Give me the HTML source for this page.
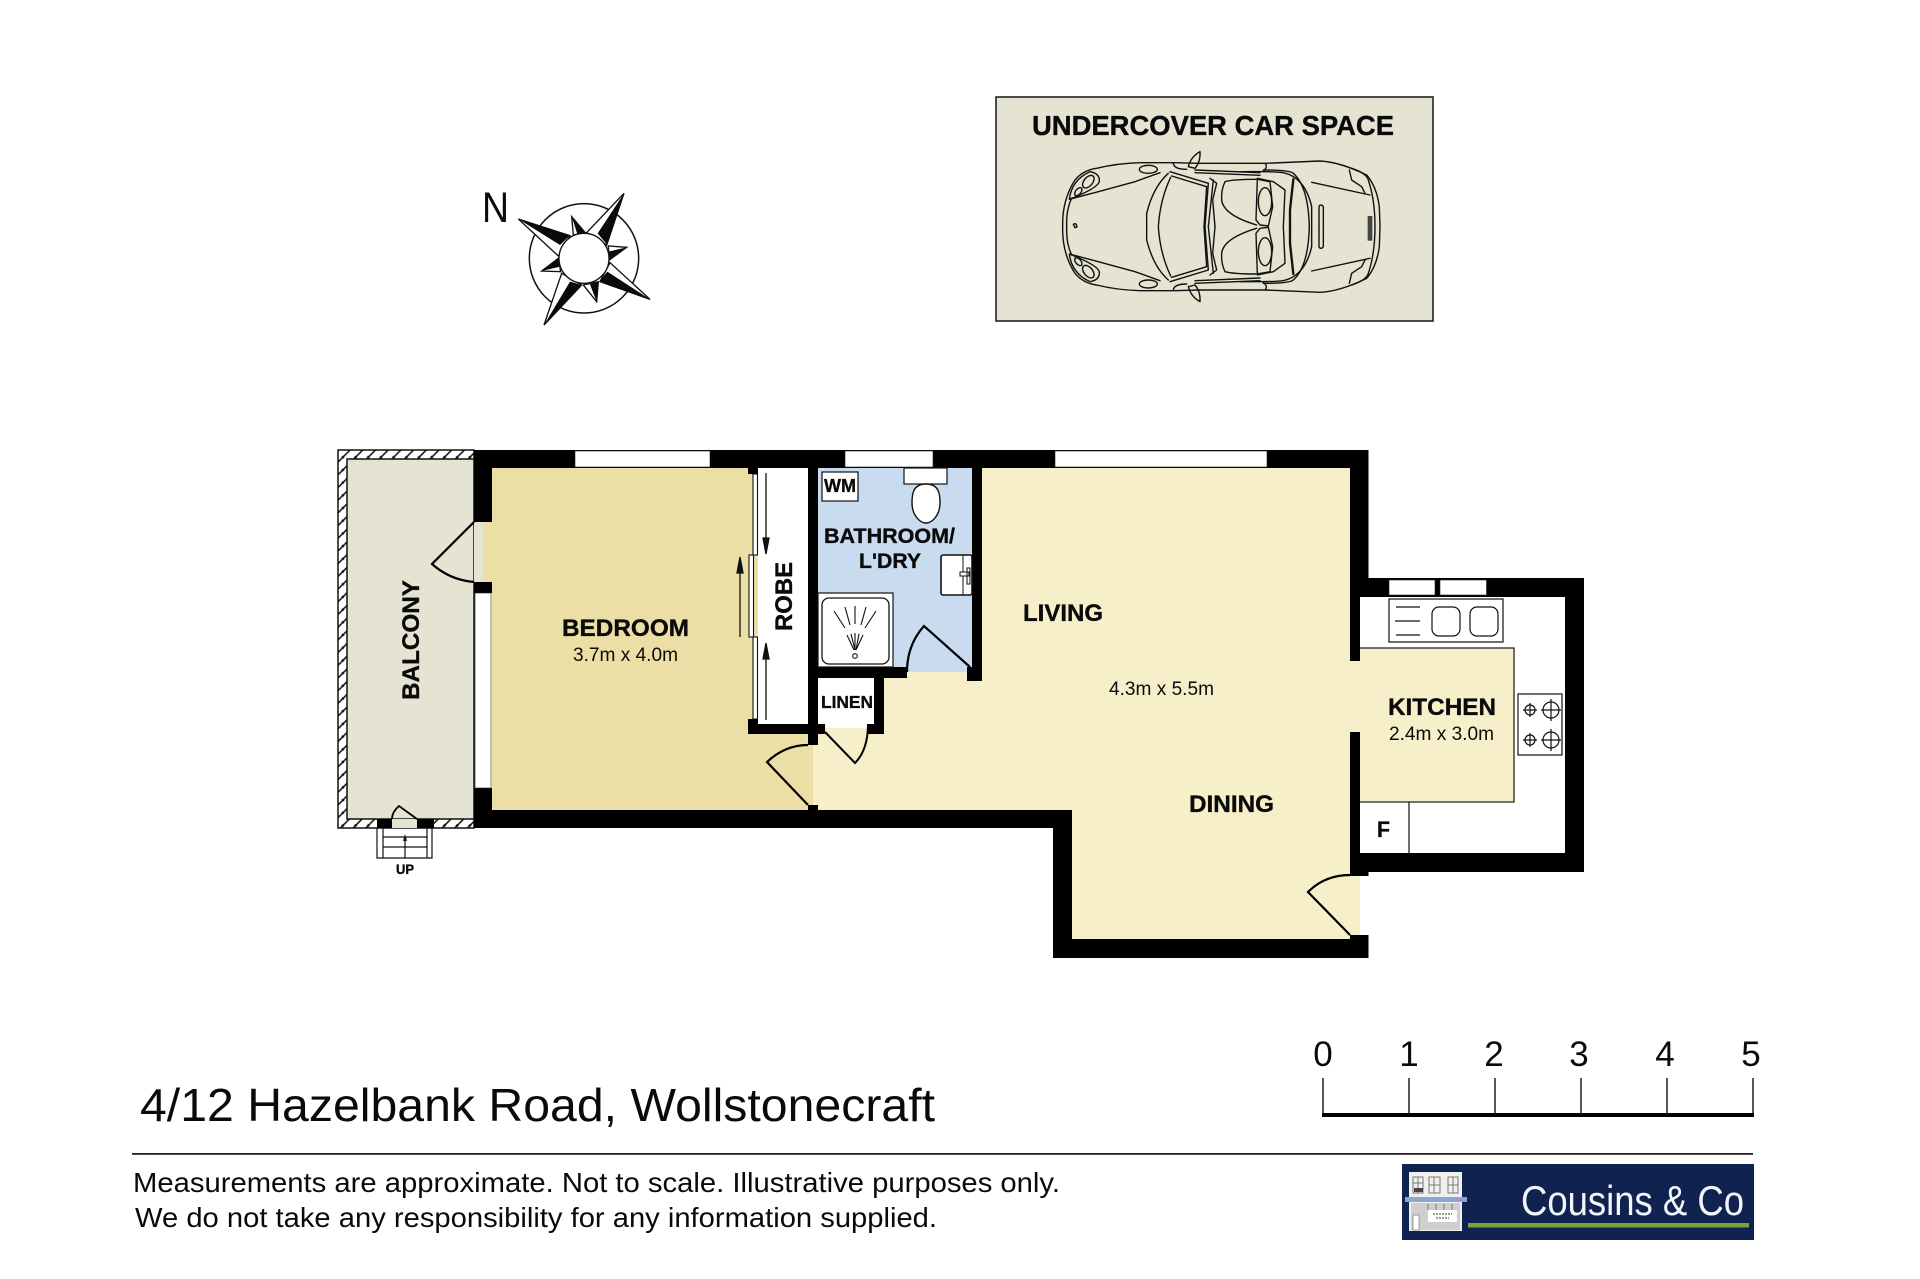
<!DOCTYPE html>
<html lang="en"><head><meta charset="utf-8"><title>4/12 Hazelbank Road, Wollstonecraft</title>
<style>html,body{margin:0;padding:0;background:#fff;width:1920px;height:1279px;overflow:hidden}svg{display:block}
text{font-family:"Liberation Sans",sans-serif;fill:#0a0a0a}.b{font-weight:bold;stroke:#0a0a0a;stroke-width:.35}</style></head><body>
<svg width="1920" height="1279" viewBox="0 0 1920 1279" xmlns="http://www.w3.org/2000/svg">
<defs><pattern id="h" width="12.7" height="12.7" patternUnits="userSpaceOnUse"><rect width="12.7" height="12.7" fill="#fff"/><path d="M-2 2.7L2.7-2M0 12.7L12.7 0M10 14.7L14.7 10" stroke="#111" stroke-width="1.5"/></pattern></defs>
<rect width="1920" height="1279" fill="#fff"/>

<!-- Compass -->
<text x="482" y="222" font-size="43" textLength="27" lengthAdjust="spacingAndGlyphs">N</text>
<g transform="translate(470 170) scale(.33333)">
<circle cx="342" cy="265" r="164" fill="none" stroke="#111" stroke-width="4.5"/>
<g fill="#fff" stroke="#111" stroke-width="4" stroke-linejoin="miter">
<path d="M145 147L265 258 300 197Z"/><path d="M462 70L350 188 410 225Z"/><path d="M540 388L420 278 390 335Z"/><path d="M222 465L275 310 335 345Z"/>
<path d="M305 140L345 187 310 195Z"/><path d="M470 232L415 228 418 270Z"/><path d="M380 395L340 345 385 335Z"/><path d="M215 303L265 265 272 305Z"/></g>
<g fill="#0a0a0a"><path d="M145 147L300 197 270 225Z"/><path d="M462 70L383 190 412 225Z"/><path d="M540 388L388 335 412 305Z"/><path d="M222 465L300 335 335 345Z"/>
<path d="M305 140L345 187 322 192Z"/><path d="M470 232L415 245 418 270Z"/><path d="M380 395L360 343 385 335Z"/><path d="M215 303L265 265 270 290Z"/></g>
<circle cx="342" cy="265" r="75" fill="#fff" stroke="#111" stroke-width="4"/>
</g>

<!-- Car space -->
<rect x="996" y="97" width="437" height="224" fill="#e5e3d2" stroke="#222" stroke-width="1.6"/>
<text class="b" x="1032" y="135" font-size="27.5" textLength="362" lengthAdjust="spacingAndGlyphs">UNDERCOVER CAR SPACE</text>
<g transform="translate(990 90) scale(.33333)" fill="none" stroke="#111" stroke-width="4.2" stroke-linejoin="round" stroke-linecap="round">
<g id="carhalf">
<path d="M218 410Q216 330 255 270 280 240 320 235 380 220 450 218L555 218 625 220 825 220 990 213Q1050 216 1130 255 1160 290 1168 350L1170 410"/>
<path d="M230 410Q228 360 245 325"/>
<path d="M238 328Q245 270 300 245 330 250 328 275 322 295 238 328L325 305 435 275 510 248"/>
<ellipse cx="295" cy="275" rx="22" ry="13" transform="rotate(-50 295 275)"/>
<ellipse cx="265" cy="305" rx="14" ry="8" transform="rotate(-50 265 305)"/>
<ellipse cx="475" cy="238" rx="27" ry="12"/>
<path d="M535 250Q490 290 470 370V410"/>
<path d="M542 262Q510 330 505 410"/>
<path d="M540 245L655 280 645 410"/>
<path d="M545 258L650 290 642 410"/>
<path d="M660 265L680 280 668 330 675 410"/>
<path d="M670 270L655 410"/>
<path d="M595 230Q603 200 630 185 632 215 615 235Z"/>
<path d="M550 220Q552 238 590 238"/>
<path d="M615 240L810 248M615 248L810 256"/>
<path d="M825 220Q835 232 820 242"/>
<path d="M800 268Q730 268 705 275 693 300 695 330 700 375 800 405"/>
<path d="M802 268L798 390 810 405 835 408 848 350 840 275Z"/>
<ellipse cx="825" cy="335" rx="20" ry="42"/>
<path d="M802 265L850 275 885 300 880 410"/>
<path d="M750 245Q850 244 880 248 945 262 965 350V410"/>
<path d="M820 240Q900 240 910 250 955 290 958 410"/>
<path d="M910 268L900 360V410" stroke-width="7"/>
<path d="M965 277L1140 315"/>
<path d="M1078 240L1085 270 1115 290 1125 310"/>
<path d="M1085 235Q1130 250 1135 270 1155 330 1155 410"/>
<path d="M987 410V352Q987 345 994 345 1000 347 1000 352V410"/>
</g>
<use href="#carhalf" transform="matrix(1 0 0 -1 0 820)"/>
<path d="M250 403l5 10 6-2-2-8-4-2z"/>
<rect x="1133" y="378" width="14" height="74" fill="#444" stroke="none"/>
</g>

<!-- Floors -->
<rect x="338" y="450" width="136" height="378" fill="url(#h)" stroke="#111" stroke-width="1.5"/>
<rect x="347" y="459" width="127" height="360" fill="#e5e3d2" stroke="#111" stroke-width="1.5"/>
<rect x="492" y="468" width="321" height="342" fill="#ecdfa5"/>
<path d="M813 468H1350V661H1360V648H1514V802H1360V935H1359V939H1072V810H813Z" fill="#f6efca"/>
<rect x="474" y="522" width="9" height="60" fill="#e5e3d2"/><rect x="483" y="522" width="9" height="60" fill="#ecdfa5"/>
<rect x="818" y="468" width="154" height="204" fill="#c9dbef"/>
<rect x="758" y="468" width="50" height="256" fill="#fff"/>
<rect x="818" y="678" width="56" height="50" fill="#fff"/>
<path d="M1360 597H1565V853H1360V802H1514V648H1360Z" fill="#fff"/>
<path d="M1360 648H1514V802H1360" fill="none" stroke="#222" stroke-width="1.3"/>
<path d="M1409 802V853" stroke="#222" stroke-width="1.3"/>

<!-- Walls -->
<g fill="#000">
<rect x="474" y="450" width="894" height="18"/>
<rect x="474" y="450" width="18" height="72"/>
<rect x="474" y="582" width="18" height="11"/>
<rect x="474" y="788" width="18" height="40"/>
<rect x="474" y="810" width="598" height="18"/>
<rect x="808" y="450" width="10" height="295"/>
<rect x="748" y="724" width="70" height="10"/>
<rect x="748" y="468" width="10" height="6"/>
<rect x="748" y="719" width="10" height="15"/>
<rect x="808" y="805" width="10" height="5"/>
<rect x="972" y="450" width="10" height="231"/><rect x="967" y="667" width="6" height="14"/>
<rect x="808" y="667" width="99" height="11"/>
<rect x="874" y="667" width="10" height="67"/>
<rect x="868" y="724" width="16" height="10"/>
<rect x="818" y="724" width="7" height="10"/>
<rect x="1350" y="450" width="18.500" height="147"/>
<rect x="1350" y="597" width="10" height="64"/>
<rect x="1350" y="732" width="10" height="143"/>
<rect x="1350" y="853" width="234" height="19"/><rect x="1350" y="853" width="18.500" height="23"/>
<rect x="1350" y="578" width="234" height="19"/>
<rect x="1565" y="578" width="19" height="294"/>
<rect x="1053" y="811" width="19" height="147"/>
<rect x="1053" y="939" width="315.500" height="19"/>
<rect x="1350" y="935" width="18.500" height="23"/>
<rect x="377" y="819" width="15" height="9"/><rect x="417" y="819" width="17" height="9"/>
</g>
<rect x="392" y="819" width="25" height="9" fill="#e5e3d2"/>

<!-- Windows -->
<g fill="#fff" stroke="#222" stroke-width=".6">
<rect x="475" y="593" width="16" height="195"/>
<rect x="575" y="451" width="135" height="16"/>
<rect x="845" y="451" width="88" height="16"/>
<rect x="1055" y="451" width="212" height="16"/>
<rect x="1389" y="580" width="46" height="15"/>
<rect x="1440" y="580" width="46.500" height="15"/>
</g>

<!-- Robe doors -->
<g fill="#fff" stroke="#111" stroke-width="1.1">
<rect x="753" y="474" width="4.500" height="81"/><rect x="753" y="637" width="4.500" height="82"/><rect x="749" y="555" width="4.500" height="82"/>
</g>
<g stroke="#111" stroke-width="1.3" fill="#111">
<path d="M766 473V540"/><path d="M763 538h6l-3 16z"/>
<path d="M766 720V658"/><path d="M763 659h6l-3-16z"/>
<path d="M740 637V572"/><path d="M737 573h6l-3-16z"/>
</g>

<!-- Doors -->
<g fill="none" stroke="#000" stroke-width="2">
<path d="M474 522L432 564Q450 580 474 582" stroke-width="2.2"/>
<path d="M808 805L767 762Q785 745 808 745" stroke-width="2.2"/>
<path d="M825 732L855 763Q868 750 868 724"/>
<path d="M970 667L924 626Q907 645 907 672" stroke-width="2.2"/>
<path d="M1350 935L1308 892Q1325 875 1350 875" stroke-width="2.2"/>
<path d="M417 819L399 806Q392 812 392 819" stroke-width="1.8"/>
</g>

<!-- Stairs -->
<g fill="none" stroke="#111" stroke-width="1.2">
<path d="M377 828V858H432V828M383 828V858M427 828V858M383 837H427M383 847H427M405 858V840"/>
</g>
<path d="M403 841h4l-2-7z" fill="#111"/>
<text class="b" x="396" y="874" font-size="13.500" textLength="18" lengthAdjust="spacingAndGlyphs">UP</text>

<!-- Fixtures -->
<rect x="822" y="472" width="36" height="29" fill="#fff" stroke="#111" stroke-width="1.2"/>
<text class="b" x="824" y="492" font-size="18" textLength="32" lengthAdjust="spacingAndGlyphs">WM</text>
<rect x="904" y="468" width="43" height="16" fill="#fff" stroke="#111" stroke-width="1.2"/>
<path d="M926 484C912 484 912 496 912 503 912 514 919 523 926 523 933 523 940 514 940 503 940 496 940 484 926 484Z" fill="#fff" stroke="#111" stroke-width="1.4"/>
<rect x="941" y="555" width="31" height="40" rx="2" fill="#fff" stroke="#111" stroke-width="1.6"/>
<path d="M963 555V595" stroke="#111" stroke-width="1"/>
<path d="M960 572h9v4h-9zM967 568h3v16h-3z" fill="#fff" stroke="#111" stroke-width="1"/>
<rect x="818" y="593" width="75" height="74" fill="#fff" stroke="#111" stroke-width="1.2"/>
<rect x="822" y="598" width="67" height="66" rx="7" fill="#fff" stroke="#111" stroke-width="1.3"/>
<g stroke="#111" stroke-width="1.1" fill="none">
<path d="M834 611L845 628M845 607L850 625M855 606V624M866 607L861 625M876 611L865 628"/>
<path d="M847 635L854 650M851 634L855 650M855 633V650M859 634L856 650M863 635L856 650"/>
<circle cx="855" cy="656" r="2.300"/>
</g>
<rect x="1389" y="599" width="114" height="43" fill="#fff" stroke="#111" stroke-width="1.2"/>
<rect x="1432" y="607" width="28" height="29" rx="7" fill="#fff" stroke="#111" stroke-width="1.2"/>
<rect x="1470" y="607" width="28" height="29" rx="7" fill="#fff" stroke="#111" stroke-width="1.2"/>
<path d="M1396 607H1420M1395 621H1420M1396 635H1420" stroke="#111" stroke-width="1.2"/>
<rect x="1518" y="694" width="44" height="61" fill="#fff" stroke="#111" stroke-width="1.2"/>
<g fill="none" stroke="#111" stroke-width="1.2">
<circle cx="1530" cy="710" r="5"/><circle cx="1530" cy="740" r="5"/><circle cx="1551" cy="710" r="8"/><circle cx="1551" cy="740" r="8"/>
<path d="M1523 710H1537M1530 703V717M1523 740H1537M1530 733V747M1541 710H1561M1551 699V721M1541 740H1561M1551 729V751"/>
</g>

<!-- Labels -->
<text class="b" x="562" y="636" font-size="24.300" textLength="127" lengthAdjust="spacingAndGlyphs">BEDROOM</text>
<text x="573" y="661" font-size="19" textLength="105" lengthAdjust="spacingAndGlyphs">3.7m x 4.0m</text>
<text class="b" transform="translate(419 700) rotate(-90)" font-size="24.300" textLength="120" lengthAdjust="spacingAndGlyphs">BALCONY</text>
<text class="b" transform="translate(792 631) rotate(-90)" font-size="24" textLength="69" lengthAdjust="spacingAndGlyphs">ROBE</text>
<text class="b" x="824" y="543" font-size="21" textLength="131" lengthAdjust="spacingAndGlyphs">BATHROOM/</text>
<text class="b" x="859" y="568" font-size="21" textLength="62" lengthAdjust="spacingAndGlyphs">L'DRY</text>
<text class="b" x="821" y="708" font-size="17.300" textLength="52" lengthAdjust="spacingAndGlyphs">LINEN</text>
<text class="b" x="1023" y="621" font-size="24" textLength="80" lengthAdjust="spacingAndGlyphs">LIVING</text>
<text x="1109" y="695" font-size="19" textLength="105" lengthAdjust="spacingAndGlyphs">4.3m x 5.5m</text>
<text class="b" x="1189" y="812" font-size="24" textLength="85" lengthAdjust="spacingAndGlyphs">DINING</text>
<text class="b" x="1388" y="715" font-size="24" textLength="108" lengthAdjust="spacingAndGlyphs">KITCHEN</text>
<text x="1389" y="740" font-size="19" textLength="105" lengthAdjust="spacingAndGlyphs">2.4m x 3.0m</text>
<text class="b" x="1377" y="837" font-size="22" textLength="13" lengthAdjust="spacingAndGlyphs">F</text>

<!-- Scale -->
<path d="M1323 1078V1115M1409 1078V1115M1495 1078V1115M1581 1078V1115M1667 1078V1115M1753 1078V1115" stroke="#222" stroke-width="1.500"/>
<rect x="1322" y="1113" width="432" height="4" fill="#000"/>
<g font-size="35" text-anchor="middle"><text x="1323" y="1066">0</text><text x="1409" y="1066">1</text><text x="1494" y="1066">2</text><text x="1579" y="1066">3</text><text x="1665" y="1066">4</text><text x="1751" y="1066">5</text></g>

<!-- Footer -->
<text x="140" y="1121" font-size="46" textLength="795" lengthAdjust="spacingAndGlyphs">4/12 Hazelbank Road, Wollstonecraft</text>
<rect x="132" y="1153" width="1621" height="1.800" fill="#222"/>
<text x="133" y="1192" font-size="28" textLength="927" lengthAdjust="spacingAndGlyphs">Measurements are approximate. Not to scale. Illustrative purposes only.</text>
<text x="135" y="1227" font-size="28" textLength="802" lengthAdjust="spacingAndGlyphs">We do not take any responsibility for any information supplied.</text>

<!-- Logo -->
<rect x="1402" y="1164" width="352" height="76" fill="#10224f"/>
<rect x="1409" y="1172" width="53" height="59" fill="#f0f0f0"/>
<rect x="1411" y="1203" width="49" height="27" fill="#cfcfcf"/>
<g stroke="#777" stroke-width="1" fill="none">
<rect x="1413" y="1177" width="10" height="16"/><rect x="1429" y="1177" width="11" height="16"/><rect x="1448" y="1177" width="10" height="16"/>
<path d="M1413 1183H1423M1429 1185H1440M1448 1185H1458M1418 1177V1193M1434 1177V1193M1453 1177V1193"/>
<path d="M1428 1204V1210M1436 1204V1210M1444 1204V1210M1452 1204V1210"/>
</g>
<rect x="1414" y="1188" width="9" height="4" fill="#444"/>
<rect x="1413" y="1215" width="6" height="15" fill="#fff" stroke="#888" stroke-width=".8"/>
<rect x="1428" y="1210" width="29" height="12" fill="#fff"/>
<path d="M1433 1214H1452M1436 1218H1449" stroke="#333" stroke-width="1" stroke-dasharray="2 1"/>
<rect x="1405" y="1197" width="62" height="5" fill="#8ea6cf"/>
<rect x="1468" y="1223" width="281" height="4.500" fill="#7aa33b"/>
<text x="1521" y="1215" font-size="42" style="fill:#f2f5fa" textLength="223" lengthAdjust="spacingAndGlyphs">Cousins &amp; Co</text>
</svg>
</body></html>
